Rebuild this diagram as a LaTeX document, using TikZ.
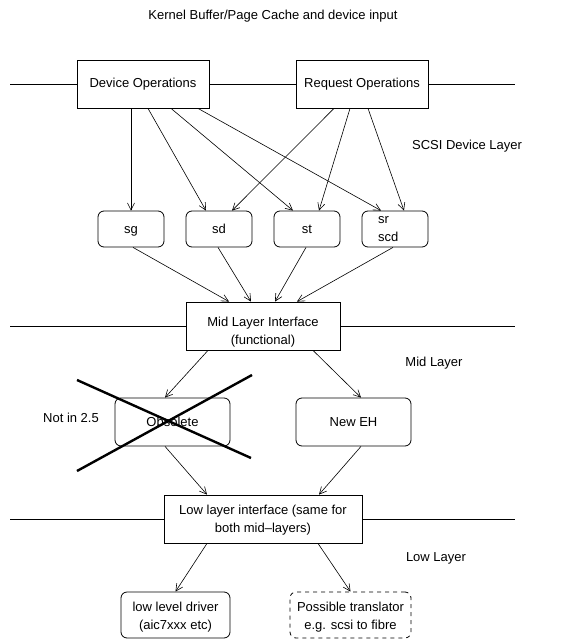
\documentclass[tikz,border=0pt]{standalone}
\usepackage{fontspec}
\setmainfont{Liberation Sans}
\usetikzlibrary{arrows.meta}
\begin{document}
\begin{tikzpicture}[x=1pt,y=-1pt,
  every node/.style={font=\fontsize{13}{18}\selectfont, inner sep=0pt},
  sqbox/.style={draw, line width=0.8pt, align=center},
  rbox/.style={draw, line width=0.8pt, rounded corners=6pt, align=center},
  oneline/.style={text height=11pt, text depth=3pt},
  lbl/.style={align=center},
  conn/.style={line width=0.6pt, -{Straight Barb[length=7pt,width=7pt,line width=0.6pt]}},
  layerline/.style={line width=0.8pt},
  crossline/.style={line width=2.4pt}]
\useasboundingbox (0,0) rectangle (575,639);

% title
\node[lbl] (title) at (273,16) {Kernel Buffer/Page Cache and device input};

% top layer
\node[sqbox, oneline, minimum width=132pt, minimum height=48pt] (dev) at (143,84) {Device Operations};
\node[sqbox, oneline, minimum width=132pt, minimum height=48pt] (req) at (362,84) {Request Operations};
\coordinate (tl) at (10,84);
\coordinate (tr) at (515,84);
\draw[layerline] (tl) -- (dev.west) (dev.east) -- (req.west) (req.east) -- (tr);
\node[lbl] (scsilbl) at (467,146) {SCSI Device Layer};

% small boxes
\node[rbox, oneline, minimum width=66pt, minimum height=36pt] (sg) at (131,229) {sg};
\node[rbox, oneline, minimum width=66pt, minimum height=36pt] (sd) at (219,229) {sd};
\node[rbox, oneline, minimum width=66pt, minimum height=36pt] (st) at (307,229) {st};
\node[rbox, minimum width=66pt, minimum height=36pt] (sr) at (395,229) {};
\node[lbl, align=left, anchor=west] (srtext) at (378,229) {sr\\scd};

% arrows from device ops
\draw[conn] ([xshift=-12pt]dev.south) -- (sg.north);
\draw[conn] ([xshift=5pt]dev.south) -- ([xshift=-13pt]sd.north);
\draw[conn] ([xshift=28pt]dev.south) -- ([xshift=-14pt]st.north);
\draw[conn] ([xshift=55pt]dev.south) -- ([xshift=-14pt]sr.north);
% arrows from request ops
\draw[conn] ([xshift=-28pt]req.south) -- ([xshift=13pt]sd.north);
\draw[conn] ([xshift=-12pt]req.south) -- ([xshift=12pt]st.north);
\draw[conn] ([xshift=6pt]req.south) -- ([xshift=9pt]sr.north);

% mid layer
\node[sqbox, text height=36pt, text depth=0pt, minimum width=154pt, minimum height=48pt] (mid) at (263,326) {Mid Layer Interface\\(functional)};
\coordinate (ml) at (10,326);
\coordinate (mr) at (515,326);
\draw[layerline] (ml) -- (mid.west) (mid.east) -- (mr);
\node[lbl] (midlbl) at (434,363) {Mid Layer};

\draw[conn] ([xshift=2pt]sg.south) -- ([xshift=-34pt]mid.north);
\draw[conn] ([xshift=-1pt]sd.south) -- ([xshift=-12pt]mid.north);
\draw[conn] ([xshift=-1pt]st.south) -- ([xshift=12pt]mid.north);
\draw[conn] ([xshift=-2pt]sr.south) -- ([xshift=34pt]mid.north);

\node[rbox, oneline, minimum width=115pt, minimum height=48pt] (obs) at (172.5,422) {Obsolete};
\node[rbox, oneline, minimum width=115pt, minimum height=48pt] (neweh) at (353.5,422) {New EH};
\node[lbl] (notin) at (71,418) {Not in 2.5};

\draw[conn] ([xshift=-55pt]mid.south) -- ([xshift=-7.5pt]obs.north);
\draw[conn] ([xshift=50pt]mid.south) -- ([xshift=7.5pt]neweh.north);

% cross
\coordinate (c1a) at (77,380);
\coordinate (c1b) at (251,458);
\coordinate (c2a) at (252,375);
\coordinate (c2b) at (77,471);
\draw[crossline] (c1a) -- (c1b);
\draw[crossline] (c2a) -- (c2b);

% low layer
\node[sqbox, text height=27pt, text depth=0pt, minimum width=198pt, minimum height=48pt] (low) at (263,519) {Low layer interface (same for\\both mid--layers)};
\coordinate (ll) at (10,519);
\coordinate (lr) at (515,519);
\draw[layerline] (ll) -- (low.west) (low.east) -- (lr);
\node[lbl] (lowlbl) at (436,558) {Low Layer};

\draw[conn] ([xshift=-7.5pt]obs.south) -- ([xshift=-56pt]low.north);
\draw[conn] ([xshift=7.5pt]neweh.south) -- ([xshift=56pt]low.north);

\node[rbox, text height=29pt, text depth=0pt, minimum width=109pt, minimum height=46pt] (drv) at (175.5,615) {low level driver\\(aic7xxx etc)};
\node[rbox, text height=29pt, text depth=0pt, dashed, dash pattern=on 4pt off 4pt, minimum width=121pt, minimum height=46pt] (trans) at (350.5,615) {Possible translator\\e.g. scsi to fibre};

\draw[conn] ([xshift=-56pt]low.south) -- (drv.north);
\draw[conn] ([xshift=55pt]low.south) -- (trans.north);
\end{tikzpicture}
\end{document}
